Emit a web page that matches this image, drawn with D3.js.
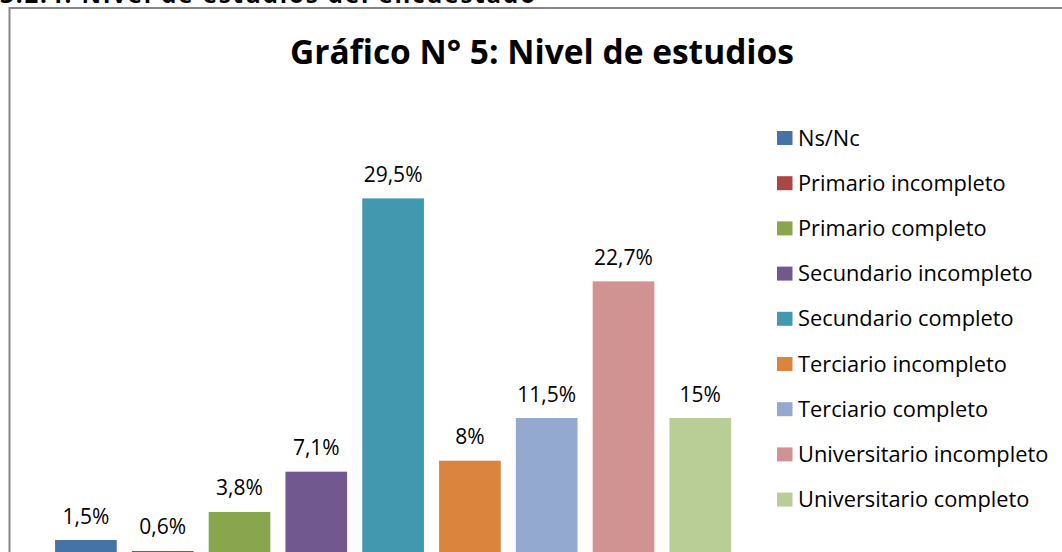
<!DOCTYPE html>
<html>
<head>
<meta charset="utf-8">
<script src="https://cdn.jsdelivr.net/npm/d3@7"></script>
<style>
  html, body { margin: 0; padding: 0; background: #fff; overflow: hidden; }
  svg { display: block; font-family: "Open Sans", Lato, sans-serif; }
</style>
</head>
<body>
<svg id="chart" width="1062" height="552"></svg>
<script>
// categorias y valores (alto de barra) + etiquetas tal como aparecen
const categorias = [
  "Ns/Nc",
  "Primario incompleto",
  "Primario completo",
  "Secundario incompleto",
  "Secundario completo",
  "Terciario incompleto",
  "Terciario completo",
  "Universitario incompleto",
  "Universitario completo"
];
const valores = [1.5, 0.6, 3.8, 7.1, 29.5, 8, 11.5, 22.7, 11.5];
const etiquetas = ["1,5%", "0,6%", "3,8%", "7,1%", "29,5%", "8%", "11,5%", "22,7%", "15%"];
const colores = ["#4572A7", "#AA4643", "#89A54E", "#71588F", "#4198AF",
                 "#DB843D", "#93A9CF", "#D19392", "#B9CD96"];

const titulo = "Gráfico N° 5: Nivel de estudios";
const encabezado = "3.2.4. Nivel de estudios del encuestado";

const svg = d3.select("#chart");

// encabezado cortado arriba
svg.append("text")
  .attr("x", 0)
  .attr("y", 2.5)
  .attr("font-weight", "bold")
  .attr("font-size", 24)
  .attr("textLength", 535)
  .attr("fill", "#000")
  .text(encabezado);

// marco del grafico (sale por derecha y abajo)
svg.append("rect")
  .attr("x", 9.5)
  .attr("y", 8)
  .attr("width", 1100)
  .attr("height", 600)
  .attr("fill", "#fff")
  .attr("stroke", "#868686")
  .attr("stroke-width", 2);

svg.append("text")
  .attr("x", 542)
  .attr("y", 63.5)
  .attr("text-anchor", "middle")
  .attr("font-weight", "bold")
  .attr("font-size", 33.5)
  .attr("fill", "#000")
  .text(titulo);

/** ESCALAS **/
const x = d3.scaleBand()
  .domain(categorias)
  .range([47.5, 738.7])
  .paddingInner(0.197)
  .paddingOuter(0.0985);

const y = d3.scaleLinear()
  .domain([0, 30])
  .range([558.3, 192.3]);

const datos = categorias.map((c, i) => ({
  cat: c, v: valores[i], label: etiquetas[i], color: colores[i]
}));

svg.selectAll("rect.bar")
  .data(datos)
  .join("rect")
  .attr("class", "bar")
  .attr("x", (d) => x(d.cat))
  .attr("y", (d) => y(d.v))
  .attr("width", x.bandwidth())
  .attr("height", (d) => y(0) - y(d.v))
  .attr("fill", (d) => d.color);

svg.selectAll("text.lbl")
  .data(datos)
  .join("text")
  .attr("class", "lbl")
  .attr("x", (d) => x(d.cat) + x.bandwidth() / 2)
  .attr("y", (d) => y(d.v) - 16.5)
  .attr("text-anchor", "middle")
  .attr("font-size", 21)
  .attr("fill", "#000")
  .text((d) => d.label);

/** LEYENDA **/
const leyenda = svg.append("g").attr("transform", "translate(777,131)");
const fila = leyenda.selectAll("g")
  .data(datos)
  .join("g")
  .attr("transform", (d, i) => `translate(0,${i * 45.2})`);

fila.append("rect")
  .attr("width", 15.5)
  .attr("height", 14)
  .attr("fill", (d) => d.color);

fila.append("text")
  .attr("x", 21)
  .attr("y", 14.5)
  .attr("font-size", 21.8)
  .attr("fill", "#000")
  .text((d) => d.cat);
</script>
</body>
</html>
